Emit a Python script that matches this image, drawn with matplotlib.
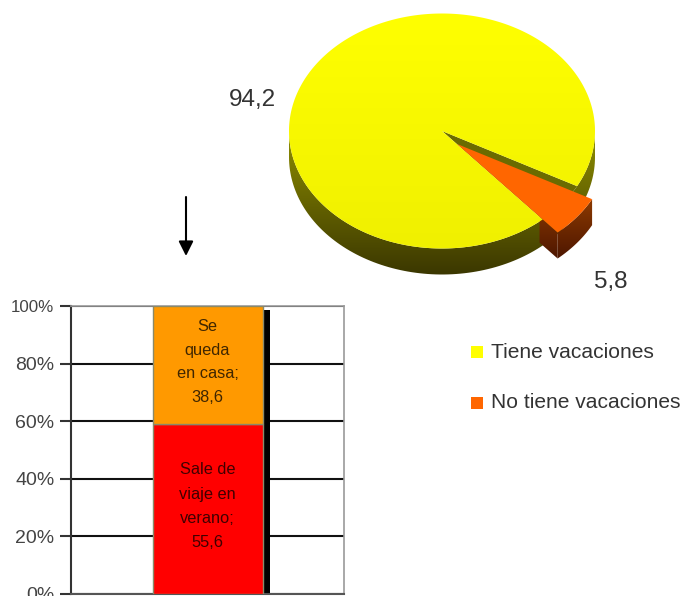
#!/usr/bin/env python3
"""Vacation pie (fake 3D, exploded slice) plus the stacked bar that breaks down the big slice."""
import numpy as np
import matplotlib
matplotlib.use('Agg')
import matplotlib.pyplot as plt
from matplotlib.colors import LinearSegmentedColormap
from matplotlib.patches import Polygon

plt.rcParams['font.family'] = ['Liberation Sans', 'DejaVu Sans']

PIE_LABELS = ['Tiene vacaciones', 'No tiene vacaciones']
PIE_VALUES = [94.2, 5.8]
PIE_TEXT = ['94,2', '5,8']

BAR_VALUES = [55.6, 38.6]
BAR_TEXT = ['Sale de\nviaje en\nverano;\n55,6', 'Se\nqueda\nen casa;\n38,6']
BAR_COLORS = ['#ff0000', '#ff9900']
TICKS = [0, 20, 40, 60, 80, 100]

W, H = 681, 596
CX, CY, RX, RY = 442, 131, 153, 117.5   # pie top ellipse, pixels
DEPTH = 26
SLICE_END = -28                         # upper edge of small slice, degrees
OFFSET = (15, 13)                       # explode shift, pixels


def ell(deg, cx=CX, cy=CY, dy=0):
    a = np.radians(deg)
    return np.column_stack([cx + RX * np.cos(a), cy - RY * np.sin(a) + dy])


def gradient_fill(ax, pts, top, bottom, c0, c1, zorder):
    """Vertical gradient clipped to polygon pts."""
    poly = Polygon(pts, closed=True, fc='none', ec='none', transform=ax.transData)
    ax.add_patch(poly)
    cmap = LinearSegmentedColormap.from_list('g', [c0, c1])
    im = ax.imshow(np.linspace(0, 1, 128).reshape(-1, 1), cmap=cmap, aspect='auto',
                   extent=(0, W, bottom, top), zorder=zorder, interpolation='bilinear')
    im.set_clip_path(poly)


fig = plt.figure(figsize=(W / 100, H / 100), dpi=100, facecolor='white')
bg = fig.add_axes([0, 0, 1, 1])
bg.set_axis_off()

# --- pie ---
sweep = 360 * PIE_VALUES[1] / sum(PIE_VALUES)
a_hi = SLICE_END
a_lo = SLICE_END - sweep
ox, oy = CX + OFFSET[0], CY + OFFSET[1]

# yellow outer wall (front half only, stops where the slice starts)
arc = np.linspace(180, 360, 120)
wall = np.vstack([ell(arc), ell(arc[::-1], dy=DEPTH)])
gradient_fill(bg, wall, 130, 280, '#8f8f00', '#383400', 2)

# small slice walls; the left face only shows past the yellow rim
arc = np.linspace(a_lo, a_hi, 30)
side = np.vstack([ell(arc, ox, oy), ell(arc[::-1], ox, oy, dy=DEPTH)])
gradient_fill(bg, side, 199, 262, '#8c3a00', '#4a1400', 3)
outer = ell(a_lo, ox, oy)[0]
start = np.array([ox, oy]) + 0.82 * (outer - [ox, oy])
face = np.array([start, outer, outer + [0, DEPTH], start + [0, DEPTH]])
gradient_fill(bg, face, 199, 262, '#8c3a00', '#4a1400', 3)

# yellow top: gap shows the olive inner wall
gap = np.vstack([[CX, CY], ell(np.linspace(a_lo, a_hi, 30))])
arc = np.linspace(a_hi, a_lo + 360, 300)
top = np.vstack([[CX, CY], ell(arc)])
bg.add_patch(Polygon(gap, closed=True, fc='#6b6b00', ec='none', zorder=4))
gradient_fill(bg, top, 13, 250, '#ffff00', '#f0f000', 5)

# small slice top
arc = np.linspace(a_lo, a_hi, 30)
bg.add_patch(Polygon(np.vstack([[ox, oy], ell(arc, ox, oy)]), closed=True,
                     fc='#ff6600', ec='none', zorder=6))

bg.text(252, 100, PIE_TEXT[0], ha='center', va='center', fontsize=17.5, color='#333333')
bg.text(611, 282, PIE_TEXT[1], ha='center', va='center', fontsize=17.5, color='#333333')

# arrow down to the bar
bg.annotate('', xy=(186, 256), xytext=(186, 197),
            arrowprops=dict(arrowstyle='-|>', color='black', lw=1.5, mutation_scale=22,
                            shrinkA=0, shrinkB=0))

# legend
for y, lbl, c in zip([352, 403], PIE_LABELS, ['#ffff00', '#ff6600']):
    bg.add_patch(Polygon([[471, y - 6], [483, y - 6], [483, y + 6], [471, y + 6]],
                         closed=True, fc=c, ec='none'))
    bg.text(491, y, lbl, ha='left', va='center', fontsize=15.1, color='#333333')

bg.set_xlim(0, W)
bg.set_ylim(H, 0)

# --- stacked bar ---
L, R, T, B = 71, 344, 306, 594
ax = fig.add_axes([L / W, 1 - B / H, (R - L) / W, (B - T) / H])
ax.set_xlim(-0.5, 0.5)
ax.set_ylim(0, 100)
ax.set_xticks([])
ax.set_yticks(TICKS)
ax.set_yticklabels([f'{t}%' for t in TICKS], fontsize=14, color='#444444')
ax.get_yticklabels()[-1].set_fontsize(12.2)   # squeezed in the original
ax.tick_params(axis='y', length=8, width=1.5, color='#333333', pad=4)
ax.grid(axis='y', color='#111111', lw=1.5, zorder=1)
ax.set_axisbelow(True)
for s in ['top', 'right']:
    ax.spines[s].set_color('#999999')
    ax.spines[s].set_linewidth(1.2)
ax.spines['left'].set_color('#333333')
ax.spines['left'].set_linewidth(1.5)
ax.spines['bottom'].set_color('#555555')
ax.spines['bottom'].set_linewidth(1.5)

bar_w = 110 / (R - L)
shift = 7 / (R - L)
shares = 100 * np.array(BAR_VALUES) / sum(BAR_VALUES)
ax.bar(shift, 98.6, width=bar_w, color='black', zorder=2)
bottom = 0
for share, txt, c, sp in zip(shares, BAR_TEXT, BAR_COLORS, [1.76, 1.72]):
    ax.bar(0, share, width=bar_w, bottom=bottom, color=c, edgecolor='#8a8a6a', lw=1, zorder=3)
    ax.text(0, bottom + share / 2 + 1, txt, ha='center', va='center', fontsize=11.8,
            color='black', alpha=0.75, linespacing=sp, zorder=4)
    bottom += share

fig.savefig('out.png', dpi=100, facecolor='white')
